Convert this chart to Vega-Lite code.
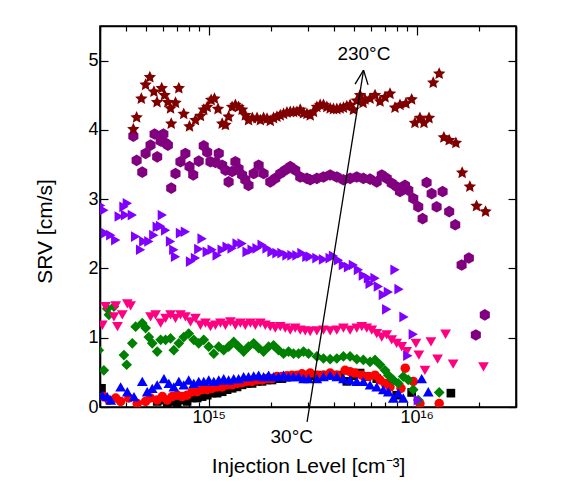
{
"$schema":"https://vega.github.io/schema/vega-lite/v6.json",
"width":416,"height":381,
"autosize":"none",
"padding":{"left":100,"top":26,"right":47,"bottom":75},
"background":"white",
"config":{"view":{"stroke":"#000","strokeWidth":1.6},"font":"Liberation Sans",
"axis":{"domainColor":"#000","domainWidth":1.6,"tickColor":"#000","tickWidth":1.2,"labelColor":"#000","titleColor":"#000","labelFont":"Liberation Sans","titleFont":"Liberation Sans","labelFontSize":18,"titleFontSize":21,"titleFontWeight":"normal","grid":false}},
"resolve":{"axis":{"x":"independent","y":"independent"}},
"layer":[
{"data":{"values":[
{"s":"a","x":3.05e14,"y":0.27},{"s":"a","x":5.65e14,"y":0.08},{"s":"a","x":5.98e14,"y":0.10},{"s":"a","x":6.32e14,"y":0.05},{"s":"a","x":6.67e14,"y":0.08},{"s":"a","x":7.05e14,"y":0.05},{"s":"a","x":7.45e14,"y":0.10},{"s":"a","x":7.87e14,"y":0.08},{"s":"a","x":8.33e14,"y":0.13},{"s":"a","x":8.80e14,"y":0.13},{"s":"a","x":9.29e14,"y":0.15},{"s":"a","x":9.83e14,"y":0.17},{"s":"a","x":1.038e15,"y":0.20},{"s":"a","x":1.097e15,"y":0.20},{"s":"a","x":1.16e15,"y":0.22},{"s":"a","x":1.225e15,"y":0.25},{"s":"a","x":1.295e15,"y":0.27},{"s":"a","x":1.368e15,"y":0.29},{"s":"a","x":1.446e15,"y":0.32},{"s":"a","x":1.528e15,"y":0.34},{"s":"a","x":1.615e15,"y":0.34},{"s":"a","x":1.707e15,"y":0.37},{"s":"a","x":1.804e15,"y":0.37},{"s":"a","x":1.906e15,"y":0.39},{"s":"a","x":2.014e15,"y":0.39},{"s":"a","x":2.128e15,"y":0.41},{"s":"a","x":2.249e15,"y":0.41},{"s":"a","x":2.376e15,"y":0.43},{"s":"a","x":2.512e15,"y":0.44},{"s":"a","x":2.654e15,"y":0.44},{"s":"a","x":2.805e15,"y":0.45},{"s":"a","x":2.964e15,"y":0.45},{"s":"a","x":3.19e15,"y":0.45},{"s":"a","x":3.433e15,"y":0.46},{"s":"a","x":3.696e15,"y":0.46},{"s":"a","x":3.976e15,"y":0.46},{"s":"a","x":4.282e15,"y":0.46},{"s":"a","x":4.61e15,"y":0.37},{"s":"a","x":4.958e15,"y":0.45},{"s":"a","x":5.34e15,"y":0.49},{"s":"a","x":5.75e15,"y":0.44},{"s":"a","x":6.42e15,"y":0.41},{"s":"a","x":7.17e15,"y":0.34},{"s":"a","x":8.007e15,"y":0.17},{"s":"a","x":9.45e15,"y":0.21},{"s":"a","x":1.459e16,"y":0.20},
{"s":"b","x":3.13e14,"y":0.15},{"s":"b","x":3.31e14,"y":0.10},{"s":"b","x":3.57e14,"y":0.13},{"s":"b","x":3.77e14,"y":0.08},{"s":"b","x":4.13e14,"y":0.13},{"s":"b","x":4.53e14,"y":0.05},{"s":"b","x":4.97e14,"y":0.08},{"s":"b","x":5.25e14,"y":0.13},{"s":"b","x":5.65e14,"y":0.10},{"s":"b","x":5.98e14,"y":0.15},{"s":"b","x":6.32e14,"y":0.10},{"s":"b","x":6.67e14,"y":0.15},{"s":"b","x":7.05e14,"y":0.17},{"s":"b","x":7.45e14,"y":0.15},{"s":"b","x":7.87e14,"y":0.17},{"s":"b","x":8.33e14,"y":0.22},{"s":"b","x":8.80e14,"y":0.22},{"s":"b","x":9.29e14,"y":0.25},{"s":"b","x":9.83e14,"y":0.25},{"s":"b","x":1.038e15,"y":0.27},{"s":"b","x":1.097e15,"y":0.29},{"s":"b","x":1.16e15,"y":0.29},{"s":"b","x":1.225e15,"y":0.32},{"s":"b","x":1.295e15,"y":0.32},{"s":"b","x":1.368e15,"y":0.34},{"s":"b","x":1.446e15,"y":0.35},{"s":"b","x":1.528e15,"y":0.37},{"s":"b","x":1.615e15,"y":0.37},{"s":"b","x":1.707e15,"y":0.39},{"s":"b","x":1.804e15,"y":0.39},{"s":"b","x":1.906e15,"y":0.41},{"s":"b","x":2.014e15,"y":0.41},{"s":"b","x":2.128e15,"y":0.44},{"s":"b","x":2.249e15,"y":0.44},{"s":"b","x":2.376e15,"y":0.45},{"s":"b","x":2.512e15,"y":0.46},{"s":"b","x":2.654e15,"y":0.46},{"s":"b","x":2.805e15,"y":0.48},{"s":"b","x":2.964e15,"y":0.46},{"s":"b","x":3.074e15,"y":0.49},{"s":"b","x":3.31e15,"y":0.46},{"s":"b","x":3.56e15,"y":0.46},{"s":"b","x":3.834e15,"y":0.49},{"s":"b","x":4.128e15,"y":0.46},{"s":"b","x":4.525e15,"y":0.53},{"s":"b","x":4.781e15,"y":0.51},{"s":"b","x":5.052e15,"y":0.49},{"s":"b","x":5.441e15,"y":0.46},{"s":"b","x":5.854e15,"y":0.44},{"s":"b","x":6.301e15,"y":0.46},{"s":"b","x":6.659e15,"y":0.39},{"s":"b","x":7.037e15,"y":0.34},{"s":"b","x":7.437e15,"y":0.29},{"s":"b","x":8.398e15,"y":0.27},{"s":"b","x":8.806e15,"y":0.56},{"s":"b","x":9.62e15,"y":0.37},{"s":"b","x":1.036e16,"y":0.05},{"s":"b","x":1.282e16,"y":0.05},
{"s":"c","x":3.08e14,"y":0.17},{"s":"c","x":3.25e14,"y":0.15},{"s":"c","x":3.38e14,"y":0.10},{"s":"c","x":3.77e14,"y":0.29},{"s":"c","x":4.06e14,"y":0.22},{"s":"c","x":4.37e14,"y":0.15},{"s":"c","x":4.79e14,"y":0.37},{"s":"c","x":5.06e14,"y":0.22},{"s":"c","x":5.35e14,"y":0.27},{"s":"c","x":5.65e14,"y":0.32},{"s":"c","x":6.09e14,"y":0.41},{"s":"c","x":6.43e14,"y":0.34},{"s":"c","x":6.79e14,"y":0.29},{"s":"c","x":7.18e14,"y":0.37},{"s":"c","x":7.58e14,"y":0.32},{"s":"c","x":8.01e14,"y":0.39},{"s":"c","x":8.47e14,"y":0.34},{"s":"c","x":8.95e14,"y":0.37},{"s":"c","x":9.46e14,"y":0.37},{"s":"c","x":1.0e15,"y":0.39},{"s":"c","x":1.057e15,"y":0.37},{"s":"c","x":1.117e15,"y":0.39},{"s":"c","x":1.18e15,"y":0.41},{"s":"c","x":1.246e15,"y":0.39},{"s":"c","x":1.318e15,"y":0.41},{"s":"c","x":1.391e15,"y":0.41},{"s":"c","x":1.471e15,"y":0.44},{"s":"c","x":1.553e15,"y":0.44},{"s":"c","x":1.644e15,"y":0.45},{"s":"c","x":1.737e15,"y":0.46},{"s":"c","x":1.835e15,"y":0.44},{"s":"c","x":1.94e15,"y":0.46},{"s":"c","x":2.049e15,"y":0.44},{"s":"c","x":2.166e15,"y":0.44},{"s":"c","x":2.289e15,"y":0.46},{"s":"c","x":2.419e15,"y":0.44},{"s":"c","x":2.556e15,"y":0.44},{"s":"c","x":2.702e15,"y":0.44},{"s":"c","x":2.855e15,"y":0.41},{"s":"c","x":3.018e15,"y":0.41},{"s":"c","x":3.31e15,"y":0.41},{"s":"c","x":3.56e15,"y":0.44},{"s":"c","x":3.834e15,"y":0.46},{"s":"c","x":4.128e15,"y":0.44},{"s":"c","x":4.44e15,"y":0.41},{"s":"c","x":4.781e15,"y":0.39},{"s":"c","x":5.148e15,"y":0.37},{"s":"c","x":5.537e15,"y":0.37},{"s":"c","x":5.963e15,"y":0.32},{"s":"c","x":6.42e15,"y":0.29},{"s":"c","x":6.905e15,"y":0.25},{"s":"c","x":7.3e15,"y":0.22},{"s":"c","x":7.712e15,"y":0.13},{"s":"c","x":8.153e15,"y":0.20},{"s":"c","x":8.613e15,"y":0.13},{"s":"c","x":1.056e16,"y":0.41},{"s":"c","x":1.136e16,"y":0.22},
{"s":"d","x":2.96e14,"y":0.82},{"s":"d","x":3.13e14,"y":0.53},{"s":"d","x":3.25e14,"y":1.42},{"s":"d","x":3.31e14,"y":1.33},{"s":"d","x":3.50e14,"y":1.45},{"s":"d","x":3.91e14,"y":0.75},{"s":"d","x":4.03e14,"y":0.61},{"s":"d","x":4.29e14,"y":0.92},{"s":"d","x":4.45e14,"y":1.16},{"s":"d","x":4.79e14,"y":1.21},{"s":"d","x":4.97e14,"y":1.14},{"s":"d","x":5.15e14,"y":1.01},{"s":"d","x":5.35e14,"y":0.92},{"s":"d","x":5.65e14,"y":0.80},{"s":"d","x":5.87e14,"y":0.97},{"s":"d","x":6.20e14,"y":0.97},{"s":"d","x":6.55e14,"y":0.99},{"s":"d","x":6.79e14,"y":0.82},{"s":"d","x":7.18e14,"y":0.92},{"s":"d","x":7.58e14,"y":1.01},{"s":"d","x":8.01e14,"y":1.06},{"s":"d","x":8.47e14,"y":0.97},{"s":"d","x":8.95e14,"y":0.92},{"s":"d","x":9.46e14,"y":0.97},{"s":"d","x":1.0e15,"y":0.87},{"s":"d","x":1.057e15,"y":0.77},{"s":"d","x":1.117e15,"y":0.87},{"s":"d","x":1.18e15,"y":0.82},{"s":"d","x":1.246e15,"y":0.87},{"s":"d","x":1.318e15,"y":0.94},{"s":"d","x":1.391e15,"y":0.87},{"s":"d","x":1.471e15,"y":0.80},{"s":"d","x":1.553e15,"y":0.87},{"s":"d","x":1.644e15,"y":0.92},{"s":"d","x":1.737e15,"y":0.85},{"s":"d","x":1.835e15,"y":0.80},{"s":"d","x":1.94e15,"y":0.87},{"s":"d","x":2.049e15,"y":0.89},{"s":"d","x":2.166e15,"y":0.82},{"s":"d","x":2.289e15,"y":0.77},{"s":"d","x":2.419e15,"y":0.80},{"s":"d","x":2.556e15,"y":0.77},{"s":"d","x":2.702e15,"y":0.77},{"s":"d","x":2.855e15,"y":0.80},{"s":"d","x":3.018e15,"y":0.77},{"s":"d","x":3.31e15,"y":0.73},{"s":"d","x":3.56e15,"y":0.70},{"s":"d","x":3.834e15,"y":0.69},{"s":"d","x":4.128e15,"y":0.70},{"s":"d","x":4.44e15,"y":0.73},{"s":"d","x":4.781e15,"y":0.73},{"s":"d","x":5.148e15,"y":0.69},{"s":"d","x":5.537e15,"y":0.68},{"s":"d","x":5.963e15,"y":0.65},{"s":"d","x":6.301e15,"y":0.68},{"s":"d","x":6.659e15,"y":0.61},{"s":"d","x":7.037e15,"y":0.53},{"s":"d","x":7.3e15,"y":0.46},{"s":"d","x":7.712e15,"y":0.39},{"s":"d","x":8.153e15,"y":0.34},{"s":"d","x":8.613e15,"y":0.44},{"s":"d","x":9.105e15,"y":0.39},{"s":"d","x":9.62e15,"y":0.25},{"s":"d","x":1.0166e16,"y":0.10},{"s":"d","x":1.282e16,"y":0.21},
{"s":"e","x":3.08e14,"y":1.18},{"s":"e","x":3.19e14,"y":1.45},{"s":"e","x":3.50e14,"y":1.30},{"s":"e","x":3.57e14,"y":1.46},{"s":"e","x":3.64e14,"y":1.16},{"s":"e","x":3.84e14,"y":1.33},{"s":"e","x":4.06e14,"y":1.49},{"s":"e","x":4.21e14,"y":1.46},{"s":"e","x":5.25e14,"y":1.30},{"s":"e","x":5.55e14,"y":1.33},{"s":"e","x":5.87e14,"y":1.21},{"s":"e","x":6.20e14,"y":1.28},{"s":"e","x":6.55e14,"y":1.33},{"s":"e","x":6.92e14,"y":1.28},{"s":"e","x":7.31e14,"y":1.33},{"s":"e","x":7.72e14,"y":1.30},{"s":"e","x":8.17e14,"y":1.23},{"s":"e","x":8.63e14,"y":1.28},{"s":"e","x":9.12e14,"y":1.18},{"s":"e","x":9.64e14,"y":1.21},{"s":"e","x":1.019e15,"y":1.16},{"s":"e","x":1.077e15,"y":1.18},{"s":"e","x":1.138e15,"y":1.21},{"s":"e","x":1.203e15,"y":1.18},{"s":"e","x":1.271e15,"y":1.23},{"s":"e","x":1.343e15,"y":1.18},{"s":"e","x":1.419e15,"y":1.21},{"s":"e","x":1.499e15,"y":1.18},{"s":"e","x":1.585e15,"y":1.21},{"s":"e","x":1.675e15,"y":1.18},{"s":"e","x":1.77e15,"y":1.21},{"s":"e","x":1.87e15,"y":1.18},{"s":"e","x":1.976e15,"y":1.16},{"s":"e","x":2.088e15,"y":1.14},{"s":"e","x":2.207e15,"y":1.16},{"s":"e","x":2.332e15,"y":1.14},{"s":"e","x":2.465e15,"y":1.11},{"s":"e","x":2.605e15,"y":1.14},{"s":"e","x":2.753e15,"y":1.11},{"s":"e","x":2.909e15,"y":1.10},{"s":"e","x":3.074e15,"y":1.09},{"s":"e","x":3.31e15,"y":1.10},{"s":"e","x":3.56e15,"y":1.11},{"s":"e","x":3.834e15,"y":1.10},{"s":"e","x":4.128e15,"y":1.11},{"s":"e","x":4.44e15,"y":1.14},{"s":"e","x":4.781e15,"y":1.11},{"s":"e","x":5.148e15,"y":1.14},{"s":"e","x":5.441e15,"y":1.16},{"s":"e","x":5.75e15,"y":1.14},{"s":"e","x":6.076e15,"y":1.11},{"s":"e","x":6.42e15,"y":1.06},{"s":"e","x":6.786e15,"y":1.01},{"s":"e","x":7.17e15,"y":1.04},{"s":"e","x":7.578e15,"y":0.97},{"s":"e","x":8.007e15,"y":0.92},{"s":"e","x":8.464e15,"y":0.87},{"s":"e","x":8.943e15,"y":0.80},{"s":"e","x":9.911e15,"y":0.92},{"s":"e","x":1.0234e16,"y":0.75},{"s":"e","x":1.095e16,"y":0.53},{"s":"e","x":1.17e16,"y":0.94},{"s":"e","x":1.259e16,"y":0.69},{"s":"e","x":1.376e16,"y":1.05},{"s":"e","x":1.496e16,"y":0.62},{"s":"e","x":2.093e16,"y":0.58},
{"s":"f","x":3.02e14,"y":2.91},{"s":"f","x":3.13e14,"y":2.84},{"s":"f","x":3.19e14,"y":2.51},{"s":"f","x":3.38e14,"y":2.48},{"s":"f","x":3.57e14,"y":2.41},{"s":"f","x":3.71e14,"y":2.75},{"s":"f","x":3.91e14,"y":2.89},{"s":"f","x":3.98e14,"y":2.77},{"s":"f","x":4.06e14,"y":2.94},{"s":"f","x":4.29e14,"y":2.77},{"s":"f","x":4.45e14,"y":2.46},{"s":"f","x":4.70e14,"y":2.27},{"s":"f","x":4.87e14,"y":2.39},{"s":"f","x":5.15e14,"y":2.39},{"s":"f","x":5.44e14,"y":2.48},{"s":"f","x":5.65e14,"y":2.60},{"s":"f","x":5.87e14,"y":2.61},{"s":"f","x":5.98e14,"y":2.77},{"s":"f","x":6.20e14,"y":2.55},{"s":"f","x":6.55e14,"y":2.39},{"s":"f","x":6.79e14,"y":2.27},{"s":"f","x":6.92e14,"y":2.17},{"s":"f","x":7.31e14,"y":2.51},{"s":"f","x":7.72e14,"y":2.53},{"s":"f","x":8.17e14,"y":2.10},{"s":"f","x":8.63e14,"y":2.15},{"s":"f","x":8.95e14,"y":2.28},{"s":"f","x":9.29e14,"y":2.43},{"s":"f","x":9.83e14,"y":2.24},{"s":"f","x":1.038e15,"y":2.27},{"s":"f","x":1.097e15,"y":2.19},{"s":"f","x":1.16e15,"y":2.27},{"s":"f","x":1.225e15,"y":2.31},{"s":"f","x":1.295e15,"y":2.29},{"s":"f","x":1.368e15,"y":2.36},{"s":"f","x":1.446e15,"y":2.36},{"s":"f","x":1.528e15,"y":2.24},{"s":"f","x":1.615e15,"y":2.27},{"s":"f","x":1.707e15,"y":2.29},{"s":"f","x":1.804e15,"y":2.34},{"s":"f","x":1.906e15,"y":2.29},{"s":"f","x":2.014e15,"y":2.24},{"s":"f","x":2.128e15,"y":2.22},{"s":"f","x":2.249e15,"y":2.22},{"s":"f","x":2.376e15,"y":2.19},{"s":"f","x":2.512e15,"y":2.19},{"s":"f","x":2.654e15,"y":2.19},{"s":"f","x":2.805e15,"y":2.22},{"s":"f","x":2.964e15,"y":2.17},{"s":"f","x":3.074e15,"y":2.17},{"s":"f","x":3.31e15,"y":2.15},{"s":"f","x":3.56e15,"y":2.13},{"s":"f","x":3.834e15,"y":2.15},{"s":"f","x":3.976e15,"y":2.18},{"s":"f","x":4.203e15,"y":2.12},{"s":"f","x":4.44e15,"y":2.05},{"s":"f","x":4.694e15,"y":2.02},{"s":"f","x":4.958e15,"y":2.05},{"s":"f","x":5.241e15,"y":1.98},{"s":"f","x":5.537e15,"y":1.90},{"s":"f","x":5.854e15,"y":1.86},{"s":"f","x":5.963e15,"y":1.78},{"s":"f","x":6.301e15,"y":1.86},{"s":"f","x":6.537e15,"y":1.74},{"s":"f","x":6.905e15,"y":1.62},{"s":"f","x":7.3e15,"y":1.66},{"s":"f","x":7.17e15,"y":1.41},{"s":"f","x":7.859e15,"y":1.98},{"s":"f","x":8.216e15,"y":1.70},{"s":"f","x":8.681e15,"y":1.30},{"s":"f","x":9.053e15,"y":0.74},{"s":"f","x":9.62e15,"y":1.05},{"s":"f","x":1.0166e16,"y":0.10},
{"s":"g","x":4.34e14,"y":3.91},{"s":"g","x":4.50e14,"y":3.56},{"s":"g","x":4.79e14,"y":3.39},{"s":"g","x":4.97e14,"y":3.66},{"s":"g","x":5.25e14,"y":3.78},{"s":"g","x":5.49e14,"y":3.94},{"s":"g","x":5.65e14,"y":3.61},{"s":"g","x":5.87e14,"y":3.84},{"s":"g","x":6.05e14,"y":3.94},{"s":"g","x":6.20e14,"y":3.81},{"s":"g","x":6.36e14,"y":3.78},{"s":"g","x":6.60e14,"y":3.16},{"s":"g","x":6.92e14,"y":3.37},{"s":"g","x":7.31e14,"y":3.54},{"s":"g","x":7.72e14,"y":3.66},{"s":"g","x":8.08e14,"y":3.47},{"s":"g","x":8.42e14,"y":3.35},{"s":"g","x":8.95e14,"y":3.55},{"s":"g","x":9.46e14,"y":3.77},{"s":"g","x":9.83e14,"y":3.68},{"s":"g","x":1.019e15,"y":3.54},{"s":"g","x":1.077e15,"y":3.53},{"s":"g","x":1.117e15,"y":3.66},{"s":"g","x":1.16e15,"y":3.49},{"s":"g","x":1.203e15,"y":3.42},{"s":"g","x":1.246e15,"y":3.25},{"s":"g","x":1.295e15,"y":3.40},{"s":"g","x":1.343e15,"y":3.54},{"s":"g","x":1.391e15,"y":3.44},{"s":"g","x":1.446e15,"y":3.35},{"s":"g","x":1.499e15,"y":3.28},{"s":"g","x":1.553e15,"y":3.20},{"s":"g","x":1.644e15,"y":3.37},{"s":"g","x":1.737e15,"y":3.49},{"s":"g","x":1.835e15,"y":3.37},{"s":"g","x":1.976e15,"y":3.25},{"s":"g","x":2.088e15,"y":3.30},{"s":"g","x":2.207e15,"y":3.37},{"s":"g","x":2.332e15,"y":3.42},{"s":"g","x":2.465e15,"y":3.47},{"s":"g","x":2.605e15,"y":3.42},{"s":"g","x":2.753e15,"y":3.32},{"s":"g","x":2.964e15,"y":3.30},{"s":"g","x":3.074e15,"y":3.28},{"s":"g","x":3.31e15,"y":3.30},{"s":"g","x":3.56e15,"y":3.32},{"s":"g","x":3.834e15,"y":3.35},{"s":"g","x":4.128e15,"y":3.32},{"s":"g","x":4.44e15,"y":3.28},{"s":"g","x":4.781e15,"y":3.30},{"s":"g","x":5.148e15,"y":3.32},{"s":"g","x":5.537e15,"y":3.30},{"s":"g","x":5.963e15,"y":3.29},{"s":"g","x":6.42e15,"y":3.25},{"s":"g","x":6.786e15,"y":3.35},{"s":"g","x":7.17e15,"y":3.30},{"s":"g","x":7.578e15,"y":3.23},{"s":"g","x":8.007e15,"y":3.18},{"s":"g","x":8.306e15,"y":3.11},{"s":"g","x":8.777e15,"y":3.20},{"s":"g","x":9.105e15,"y":3.13},{"s":"g","x":9.62e15,"y":3.01},{"s":"g","x":1.0166e16,"y":2.89},{"s":"g","x":1.067e16,"y":2.72},{"s":"g","x":1.115e16,"y":3.24},{"s":"g","x":1.179e16,"y":3.08},{"s":"g","x":1.246e16,"y":2.89},{"s":"g","x":1.331e16,"y":3.11},{"s":"g","x":1.432e16,"y":2.82},{"s":"g","x":1.531e16,"y":2.63},{"s":"g","x":1.643e16,"y":2.05},{"s":"g","x":1.78e16,"y":2.15},{"s":"g","x":1.923e16,"y":1.04},{"s":"g","x":2.124e16,"y":1.33},
{"s":"h","x":4.34e14,"y":4.01},{"s":"h","x":4.50e14,"y":4.18},{"s":"h","x":4.74e14,"y":4.45},{"s":"h","x":4.97e14,"y":4.65},{"s":"h","x":5.21e14,"y":4.76},{"s":"h","x":5.45e14,"y":4.55},{"s":"h","x":5.64e14,"y":4.40},{"s":"h","x":5.94e14,"y":4.60},{"s":"h","x":6.13e14,"y":4.50},{"s":"h","x":6.36e14,"y":4.40},{"s":"h","x":6.55e14,"y":4.31},{"s":"h","x":6.60e14,"y":4.09},{"s":"h","x":6.92e14,"y":4.39},{"s":"h","x":7.18e14,"y":4.60},{"s":"h","x":7.58e14,"y":4.23},{"s":"h","x":8.08e14,"y":4.05},{"s":"h","x":8.63e14,"y":4.14},{"s":"h","x":9.12e14,"y":4.20},{"s":"h","x":9.46e14,"y":4.29},{"s":"h","x":9.83e14,"y":4.33},{"s":"h","x":1.027e15,"y":4.43},{"s":"h","x":1.065e15,"y":4.45},{"s":"h","x":1.108e15,"y":4.30},{"s":"h","x":1.16e15,"y":4.09},{"s":"h","x":1.203e15,"y":4.07},{"s":"h","x":1.246e15,"y":4.19},{"s":"h","x":1.295e15,"y":4.33},{"s":"h","x":1.343e15,"y":4.36},{"s":"h","x":1.391e15,"y":4.33},{"s":"h","x":1.446e15,"y":4.29},{"s":"h","x":1.499e15,"y":4.21},{"s":"h","x":1.553e15,"y":4.14},{"s":"h","x":1.62e15,"y":4.17},{"s":"h","x":1.707e15,"y":4.17},{"s":"h","x":1.77e15,"y":4.14},{"s":"h","x":1.835e15,"y":4.17},{"s":"h","x":1.906e15,"y":4.16},{"s":"h","x":1.976e15,"y":4.13},{"s":"h","x":2.049e15,"y":4.17},{"s":"h","x":2.128e15,"y":4.19},{"s":"h","x":2.207e15,"y":4.21},{"s":"h","x":2.289e15,"y":4.23},{"s":"h","x":2.376e15,"y":4.25},{"s":"h","x":2.465e15,"y":4.26},{"s":"h","x":2.556e15,"y":4.26},{"s":"h","x":2.654e15,"y":4.26},{"s":"h","x":2.753e15,"y":4.29},{"s":"h","x":2.855e15,"y":4.24},{"s":"h","x":2.964e15,"y":4.23},{"s":"h","x":3.074e15,"y":4.21},{"s":"h","x":3.188e15,"y":4.26},{"s":"h","x":3.31e15,"y":4.33},{"s":"h","x":3.433e15,"y":4.36},{"s":"h","x":3.56e15,"y":4.36},{"s":"h","x":3.696e15,"y":4.33},{"s":"h","x":3.834e15,"y":4.31},{"s":"h","x":3.976e15,"y":4.30},{"s":"h","x":4.128e15,"y":4.30},{"s":"h","x":4.282e15,"y":4.31},{"s":"h","x":4.44e15,"y":4.32},{"s":"h","x":4.61e15,"y":4.34},{"s":"h","x":4.781e15,"y":4.36},{"s":"h","x":4.96e15,"y":4.29},{"s":"h","x":5.15e15,"y":4.42},{"s":"h","x":5.34e15,"y":4.50},{"s":"h","x":5.52e15,"y":4.39},{"s":"h","x":5.64e15,"y":4.44},{"s":"h","x":5.963e15,"y":4.45},{"s":"h","x":6.30e15,"y":4.50},{"s":"h","x":6.659e15,"y":4.41},{"s":"h","x":7.04e15,"y":4.47},{"s":"h","x":7.437e15,"y":4.52},{"s":"h","x":7.86e15,"y":4.32},{"s":"h","x":8.306e15,"y":4.36},{"s":"h","x":8.87e15,"y":4.38},{"s":"h","x":9.45e15,"y":4.44},{"s":"h","x":9.80e15,"y":4.10},{"s":"h","x":1.036e16,"y":4.17},{"s":"h","x":1.083e16,"y":4.10},{"s":"h","x":1.145e16,"y":4.17},{"s":"h","x":1.20e16,"y":4.68},{"s":"h","x":1.282e16,"y":4.81},{"s":"h","x":1.35e16,"y":3.89},{"s":"h","x":1.432e16,"y":3.85},{"s":"h","x":1.542e16,"y":3.81},{"s":"h","x":1.653e16,"y":3.38},{"s":"h","x":1.80e16,"y":3.18},{"s":"h","x":1.938e16,"y":2.90},{"s":"h","x":2.141e16,"y":2.82}
]},
"mark":{"type":"point","filled":true,"opacity":1,"strokeWidth":0,"clip":true},
"encoding":{
"x":{"field":"x","type":"quantitative","scale":{"type":"log","domain":[3e14,3e16],"nice":false},
"axis":{"orient":"bottom","values":[3e14,4e14,5e14,6e14,7e14,8e14,9e14,1e15,2e15,3e15,4e15,5e15,6e15,7e15,8e15,9e15,1e16,2e16,3e16],
"labelExpr":"abs(log(datum.value)/LN10 - round(log(datum.value)/LN10)) < 0.001 ? (round(log(datum.value)/LN10) == 15 ? '10¹⁵' : '10¹⁶') : ''",
"tickSize":{"condition":{"test":"abs(log(datum.value)/LN10 - round(log(datum.value)/LN10)) < 0.001","value":-9},"value":-5},
"labelOverlap":false,"labelFlush":false,"labelPadding":10,"title":"Injection Level [cm⁻³]","titleY":65,"titleBaseline":"alphabetic"}},
"y":{"field":"y","type":"quantitative","scale":{"domain":[0,5.5],"nice":false},
"axis":{"orient":"left","values":[0,1,2,3,4,5],"tickSize":-8,"labelPadding":10,"title":"SRV [cm/s]","titleX":-55,"titleY":205,"titleBaseline":"middle","titleAlign":"center"}},
"color":{"field":"s","type":"nominal","legend":null,"scale":{"domain":["a","b","c","d","e","f","g","h"],"range":["#000000","#FF0000","#0000FF","#008000","#FF0080","#8000FF","#800080","#800000"]}},
"shape":{"field":"s","type":"nominal","legend":null,"scale":{"domain":["a","b","c","d","e","f","g","h"],"range":["square","circle","triangle-up","diamond","triangle-down","triangle-right","M0,-1L0.866,-0.5L0.866,0.5L0,1L-0.866,0.5L-0.866,-0.5Z","M0,-1L0.282,-0.388L0.951,-0.309L0.457,0.148L0.588,0.809L0,0.48L-0.588,0.809L-0.457,0.148L-0.951,-0.309L-0.282,-0.388Z"]}},
"size":{"field":"s","type":"ordinal","legend":null,"scale":{"type":"ordinal","domain":["a","b","c","d","e","f","g","h"],"range":[75,90,115,115,115,115,135,170]}}
}},
{"data":{"values":[
{"x":2.97e15,"y":-0.216,"x2":5.55e15,"y2":4.863},
{"x":5.052e15,"y":4.66,"x2":5.55e15,"y2":4.863},
{"x":5.833e15,"y":4.65,"x2":5.55e15,"y2":4.863}
]},
"mark":{"type":"rule","color":"#000","strokeWidth":1.3,"clip":false},
"encoding":{
"x":{"field":"x","type":"quantitative","scale":{"type":"log","domain":[3e14,3e16],"nice":false},
"axis":{"orient":"top","values":[3e14,4e14,5e14,6e14,7e14,8e14,9e14,1e15,2e15,3e15,4e15,5e15,6e15,7e15,8e15,9e15,1e16,2e16,3e16],"labels":false,"title":null,
"tickSize":{"condition":{"test":"abs(log(datum.value)/LN10 - round(log(datum.value)/LN10)) < 0.001","value":-9},"value":-5}}},
"x2":{"field":"x2"},
"y":{"field":"y","type":"quantitative","scale":{"domain":[0,5.5],"nice":false},
"axis":{"orient":"right","values":[0,1,2,3,4,5],"labels":false,"title":null,"tickSize":-8}},
"y2":{"field":"y2"}
}},
{"data":{"values":[
{"t":"230°C","x":5.57e15,"y":5.09},
{"t":"30°C","x":2.506e15,"y":-0.43}
]},
"mark":{"type":"text","fontSize":19,"font":"Liberation Sans","color":"#000","align":"center","baseline":"middle","clip":false},
"encoding":{
"x":{"field":"x","type":"quantitative","scale":{"type":"log","domain":[3e14,3e16],"nice":false},"axis":null},
"y":{"field":"y","type":"quantitative","scale":{"domain":[0,5.5],"nice":false},"axis":null},
"text":{"field":"t"}
}}
]
}
